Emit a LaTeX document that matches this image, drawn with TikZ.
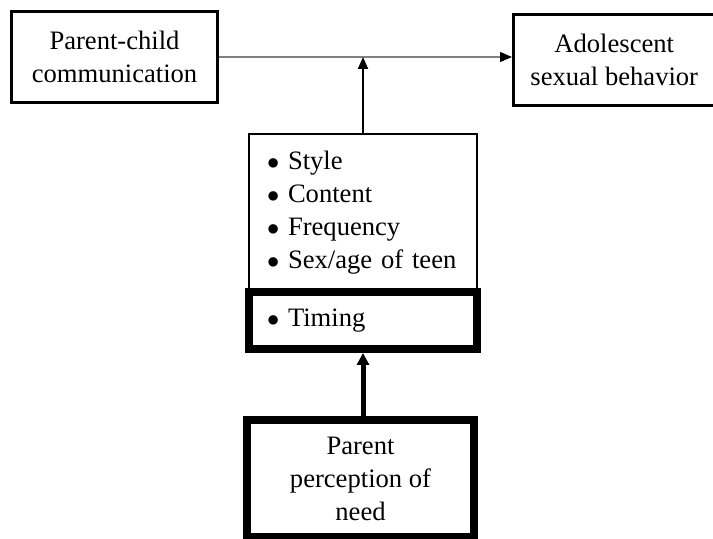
\documentclass[tikz,border=0pt]{standalone}
\usepackage{graphicx}
\usepackage{fontspec}
\setmainfont{Liberation Serif}
\usetikzlibrary{arrows.meta}
\newcommand{\dotitem}{\makebox[10.5pt][l]{\scalebox{0.85}{$\bullet$}}}
\begin{document}
\begin{tikzpicture}[x=0.5pt,y=0.5pt,
  box/.style={draw,line width=1.5pt,align=center,inner sep=0pt,
    font=\fontsize{13.3}{16.5}\selectfont},
  heavybox/.style={box,line width=4pt},
  listbox/.style={box,line width=1pt,text width=96pt,align=left},
  tip/.style={-{Triangle[length=6pt,width=5pt,color=black]}}]
  \useasboundingbox (0,0) rectangle (713,-539);
  \node[box,minimum width=103pt,minimum height=45.5pt] (comm) at (114.5,-57) {Parent-child\\communication};
  \node[box,minimum width=100.75pt,minimum height=45.5pt] (behav) at (614.25,-60) {Adolescent\\sexual behavior};
  \node[listbox,minimum width=114pt,minimum height=79pt] (aspects) at (363,-213)
    {\dotitem Style\\\dotitem Content\\\dotitem Frequency\\\dotitem Sex/age of teen};
  \node[heavybox,text width=96pt,align=left,minimum width=114pt,minimum height=28.5pt] (timing) at (363,-320.5)
    {\dotitem Timing};
  \node[heavybox,minimum width=113.5pt,minimum height=58.5pt] (need) at (360.5,-478.5)
    {Parent\\perception of\\need};
  \draw[tip,gray,line width=0.6pt] (comm.east) -- (comm.east -| behav.west);
  \draw[tip,line width=1pt] (aspects.north) -- (aspects.north |- comm.east);
  \draw[-{Triangle[length=6pt,width=6pt]},line width=2.5pt] (need.north -| timing.south) -- (timing.south);
\end{tikzpicture}
\end{document}
